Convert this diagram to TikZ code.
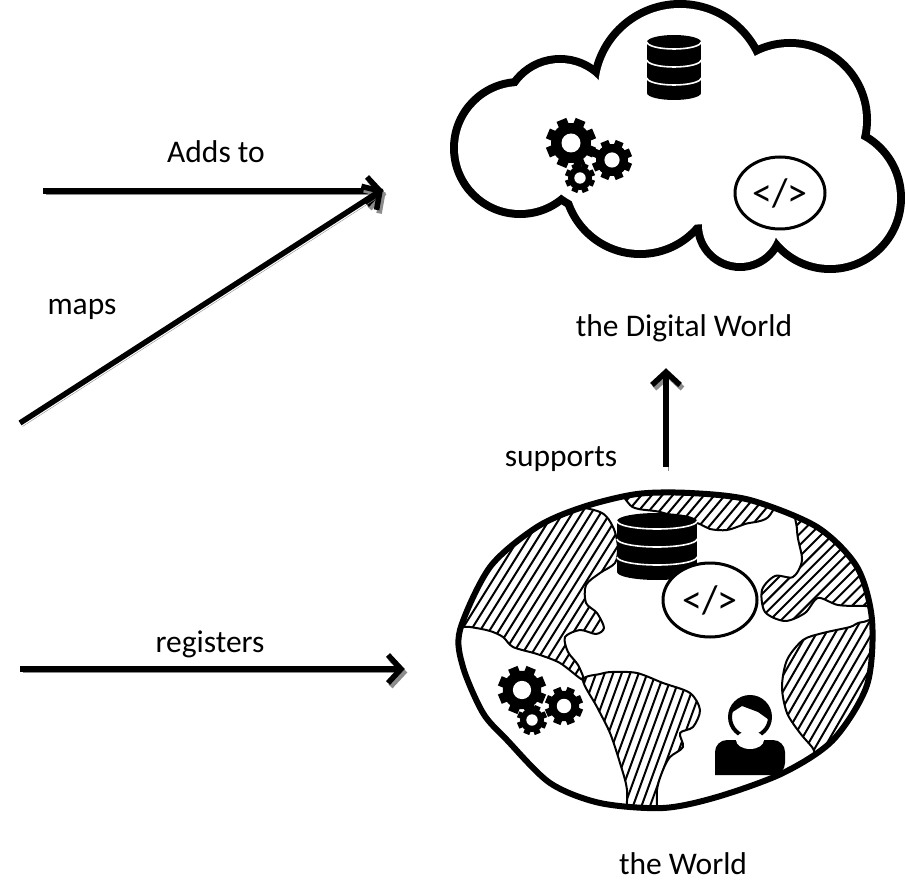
\documentclass[tikz,border=0pt]{standalone}
\usepackage{fontspec}
\setmainfont{Carlito}
\usepackage{tikz}
\usetikzlibrary{decorations.markings}
\usetikzlibrary{positioning}
\usetikzlibrary{calc}

\tikzset{
    tipmark/.style={decoration={markings, mark=at position 1 with {\draw[#1, line width=5.5pt] (-13pt,-14pt) -- (0pt,0pt) -- (-13pt,14pt);}}, decorate}
}
\tikzstyle{caption}=[font=\fontsize{31.5}{37}\selectfont, inner sep=0pt, anchor=base]
\tikzstyle{flow}=[draw, line width=5.5pt, postaction={tipmark=black},
    preaction={draw=black!45, transform canvas={xshift=2.5pt,yshift=-3.5pt}, postaction={tipmark=black!45}}]
\tikzstyle{coast}=[draw, line width=2pt, line join=round]
\tikzstyle{hatchline}=[line width=2pt]
\tikzstyle{rim}=[draw, line width=6pt]

% database: centre x, lid centre y, half width, lid half height
\newcommand{\dbicon}[4]{%
    \fill (#1-#3,#2) rectangle (#1+#3,#2+51);
    \fill (#1,#2) ellipse[x radius=#3, y radius=#4];
    \fill (#1,#2+51) ellipse[x radius=#3, y radius=#4];
    \foreach \dy in {0,18,36}
        \draw[white, line width=1.6pt] (#1-#3,#2+\dy) arc[start angle=180, end angle=0, x radius=#3, y radius=#4];
}

% gear: centre x, centre y, outer radius
\newcommand{\gearicon}[3]{%
    \foreach \a in {0,45,...,315}
        \draw[line width=0.42*#3pt] (#1,#2) -- ++(\a+22.5:#3);
    \fill (#1,#2) circle[radius=0.8*#3];
    \fill[white] (#1,#2) circle[radius=0.38*#3];
}

% code badge: name, centre x, centre y, x radius, y radius
\newcommand{\codeicon}[5]{%
    \filldraw[fill=white, line width=3pt] (#2,#3) ellipse[x radius=#4, y radius=#5];
    \node[font=\fontsize{40}{40}\selectfont, inner sep=0pt] (#1) at (#2,#3) {</>};
}

% user: head centre x, y
\newcommand{\personicon}[2]{%
    \begin{scope}
        \clip (#1,#2) circle[radius=20];
        \fill (#1-22,#2-2) -- (#1-8,#2-11) -- (#1+8,#2-5) -- (#1+22,#2+5) -- (#1+22,#2-25) -- (#1-22,#2-25) -- cycle;
    \end{scope}
    \draw[line width=4pt] (#1,#2) circle[radius=20];
    \fill (#1-35,#2+58) [rounded corners=12pt] |- (#1,#2+23) -| (#1+35,#2+58) [sharp corners] -- cycle;
    \fill[white] (#1,#2+23) ellipse[x radius=14, y radius=9];
}

% hatching: centre x, centre y, angle, spacing
\newcommand{\hatch}[4]{%
    \begin{scope}[shift={(#1,#2)}, rotate=#3]
        \foreach \k in {-22,...,22}
            \draw[hatchline] (\k*#4,-180) -- (\k*#4,180);
    \end{scope}
}

\begin{document}
\begin{tikzpicture}[x=1pt, y=-1pt]

    \useasboundingbox (0,0) rectangle (905,882);

    \def\globeline{plot[smooth cycle] coordinates {(637,494) (690,493) (750,500) (817,527) (857,567) (872,620) (867,685) (833,740) (783,773) (717,797) (663,808) (600,803) (550,783) (507,740) (483,713) (463,667) (460,630) (490,567) (537,527) (583,507)}}
    \def\landNA{plot[smooth cycle] coordinates {(613,527) (618,547) (615,563) (600,573) (586,585) (586,603) (597,613) (604,628) (596,634) (580,630) (565,637) (568,652) (578,665) (583,680) (560,663) (537,654) (513,647) (503,637) (490,631) (470,627) (430,622) (420,560) (480,505) (560,505) (600,512)}}
    \def\landSA{plot[smooth cycle] coordinates {(583,680) (600,674) (612,672) (637,673) (663,683) (690,693) (700,710) (693,727) (680,733) (683,747) (670,757) (663,770) (657,790) (655,830) (628,830) (627,790) (620,763) (610,733) (597,707)}}
    \def\landTop{plot[smooth cycle] coordinates {(625,470) (630,505) (660,512) (697,523) (710,529) (727,530) (745,524) (770,515) (778,470)}}
    \def\landAsia{plot[smooth cycle] coordinates {(797,530) (802,560) (793,577) (775,576) (762,590) (765,612) (785,621) (805,613) (818,598) (838,605) (865,606) (910,606) (910,480) (800,480)}}
    \def\landEast{plot[smooth cycle] coordinates {(823,633) (803,640) (787,660) (782,687) (787,713) (800,733) (812,747) (830,770) (910,770) (910,620) (863,622) (850,627)}}

    % the cloud
    \foreach \cx/\cy/\r in {520/148/62, 560/115/52, 680/90/82, 790/120/73, 830/198/67, 740/225/38, 640/178/72}
        \draw[line width=16pt] (\cx,\cy) circle[radius=\r];
    \draw[line width=16pt] (680,160) ellipse[x radius=140, y radius=65];
    \foreach \cx/\cy/\r in {520/148/62, 560/115/52, 680/90/82, 790/120/73, 830/198/67, 740/225/38, 640/178/72}
        \fill[white] (\cx,\cy) circle[radius=\r];
    \fill[white] (680,160) ellipse[x radius=140, y radius=65];
    \coordinate (cloud) at (680,150);

    \dbicon{674}{42}{27}{7}
    \gearicon{571}{143}{25}
    \gearicon{612}{160}{20}
    \gearicon{580}{178}{15}
    \codeicon{cloudCode}{780}{193}{45}{36}

    % the globe
    \begin{scope}
        \clip \globeline;
        \begin{scope} \clip \landNA; \hatch{540}{580}{-32}{8} \end{scope}
        \begin{scope} \clip \landSA; \hatch{640}{740}{-20}{8} \end{scope}
        \begin{scope} \clip \landTop; \hatch{700}{500}{-40}{8} \end{scope}
        \begin{scope} \clip \landAsia; \hatch{820}{570}{-45}{8} \end{scope}
        \begin{scope} \clip \landEast; \hatch{830}{690}{-30}{8} \end{scope}
        \draw[coast] \landNA;
        \draw[coast] \landSA;
        \draw[coast] \landTop;
        \draw[coast] \landAsia;
        \draw[coast] \landEast;
    \end{scope}
    \draw[rim] \globeline;
    \coordinate (globe) at (668,650);

    \dbicon{657}{521}{40}{8}
    \codeicon{globeCode}{710}{600}{47}{37}
    \gearicon{522}{690}{24}
    \gearicon{564}{706}{19}
    \gearicon{532}{720}{15}
    \personicon{750}{717}

    % labels
    \node[caption] (addsLbl) at (216,163) {Adds to};
    \node[caption] (mapsLbl) at (82,315) {maps};
    \node[caption] (digitalLbl) at (684,337) {the Digital World};
    \node[caption] (supLbl) at (561,466) {supports};
    \node[caption] (regLbl) at (210,652) {registers};
    \node[caption] (worldLbl) at (683,874) {the World};

    % arrows
    \coordinate (addsFrom) at (43,191);
    \coordinate (mapsFrom) at (20,423);
    \coordinate (cloudIn) at (380,191);
    \coordinate (regFrom) at (20,669);
    \coordinate (globeIn) at (401,669);
    \coordinate (supFrom) at (666,467);
    \coordinate (supTo) at (666,372);

    \draw[flow] (addsFrom) -- (cloudIn);
    \draw[flow] (mapsFrom) -- (cloudIn);
    \draw[flow] (regFrom) -- (globeIn);
    \draw[flow] (supFrom) -- (supTo);

\end{tikzpicture}
\end{document}
